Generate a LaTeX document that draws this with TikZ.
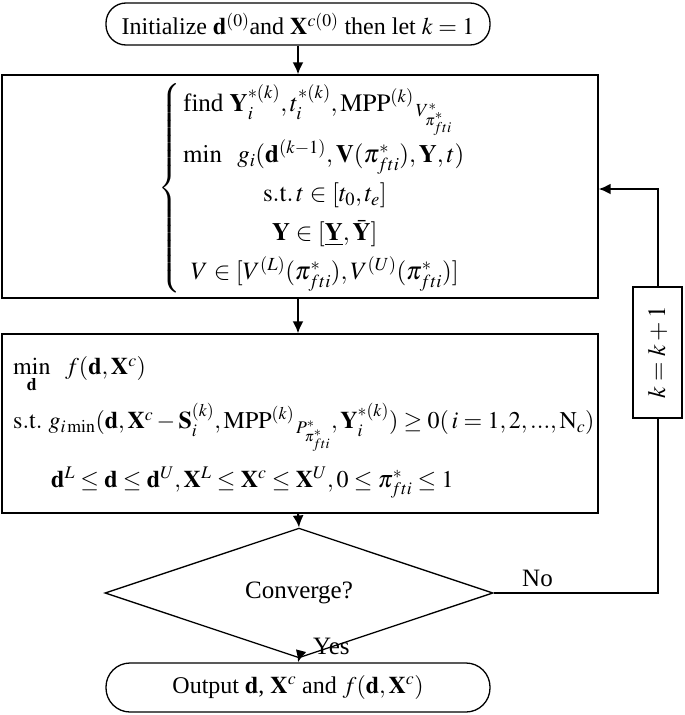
\documentclass[tikz,border=0pt]{standalone}
\usepackage{mathptmx}
\usepackage[no-math]{fontspec}
\setmainfont{Liberation Serif}
\usepackage{graphicx}
\usetikzlibrary{shapes.geometric,arrows.meta}
\begin{document}
\begin{tikzpicture}[x=1pt,y=-1pt, font=\fontsize{25}{30}\selectfont,
  >={Latex[length=12pt,width=11pt]},
  term/.style={draw, rounded corners=20pt, minimum width=384pt, line width=1.3pt, inner sep=0pt, font=\fontsize{24}{29}\selectfont},
  box/.style={draw, line width=1.3pt, minimum width=596pt, inner sep=0pt},
  flow/.style={->, line width=2pt},
  plain/.style={line width=2pt},
  txt/.style={inner sep=0pt}]
\useasboundingbox (0,0) rectangle (685,715);

\node[term, minimum height=42pt] (init) at (298,24) {Initialize $\mathbf{d}^{(0)}$and $\mathbf{X}^{c(0)}$ then let $k=1$};

\node[box, minimum height=223pt] (b1) at (300,186.5) {};
\node[txt, anchor=west] (c1) at (158,188) {\def\arraystretch{1.3}$\left\{\begin{array}{@{\,}l}
 \mbox{find }\mathbf{Y}_i^{*(k)}, t_i^{*(k)}, \mathrm{MPP}^{(k)}{}_{\,V^{*}_{\pi^{*}_{fti}}}\\
 \min\ \ g_i(\mathbf{d}^{(k-1)}, \mathbf{V}(\pi^*_{fti}), \mathbf{Y}, t)\\
 \multicolumn{1}{c}{\mathrm{s.t.}\, t\in[t_0,t_e]}\\
 \multicolumn{1}{c}{\mathbf{Y}\in[\underline{\mathbf{Y}},\bar{\mathbf{Y}}]}\\
 \multicolumn{1}{c}{V\in[V^{(L)}(\pi^*_{fti}), V^{(U)}(\pi^*_{fti})]}
\end{array}\right.$};

\node[box, minimum height=179pt] (b2) at (300,423.5) {};
\node[txt, anchor=west, font=\fontsize{24}{29}\selectfont] (c2) at (13,421) {\def\arraystretch{1.75}$\begin{array}{@{}l}
 \min\limits_{\mathbf{d}}\ \ f(\mathbf{d},\mathbf{X}^c)\\
 \mathrm{s.t.}\ g_{i\min}(\mathbf{d}, \mathbf{X}^c - \mathbf{S}_i^{(k)}, \mathrm{MPP}^{(k)}{}_{\,P^*_{\pi^*_{fti}}}, \mathbf{Y}_i^{*(k)}) \ge 0(\,i=1,2,...,\mathrm{N}_c)\\
 \hspace{38pt}\mathbf{d}^L\le\mathbf{d}\le\mathbf{d}^U, \mathbf{X}^L\le\mathbf{X}^c\le\mathbf{X}^U, 0\le\pi^*_{fti}\le1
\end{array}$};

\node[diamond, draw, line width=1.3pt, minimum width=388pt, minimum height=80pt, inner sep=0pt] (conv) at (299,593) {Converge?};

\node[term, minimum height=49pt, rounded corners=24pt] (out) at (298,687.5) {Output $\mathbf{d}$, $\mathbf{X}^c$ and $f(\mathbf{d},\mathbf{X}^c)$};

\node[draw, line width=1.3pt, minimum width=49pt, minimum height=131pt, inner sep=0pt] (kb) at (657.5,352.5) {\rotatebox{90}{$k=k+1$}};

\coordinate (turn) at (657.5,189);

\draw[flow] (init.south) -- (init.south |- b1.north);
\draw[flow] (init.south |- b1.south) -- (init.south |- b2.north);
\draw[flow] (init.south |- b2.south) -- (conv.north);
\draw[flow] (conv.south) -- (out.north);
\draw[plain] (conv.east) -| (kb.south);
\draw[flow] (kb.north) -- (turn) -- (b1.east |- turn);

\node[txt, anchor=south west] (no) at (522,587) {No};
\node[txt, anchor=west] (yes) at (313,646) {Yes};
\end{tikzpicture}
\end{document}
